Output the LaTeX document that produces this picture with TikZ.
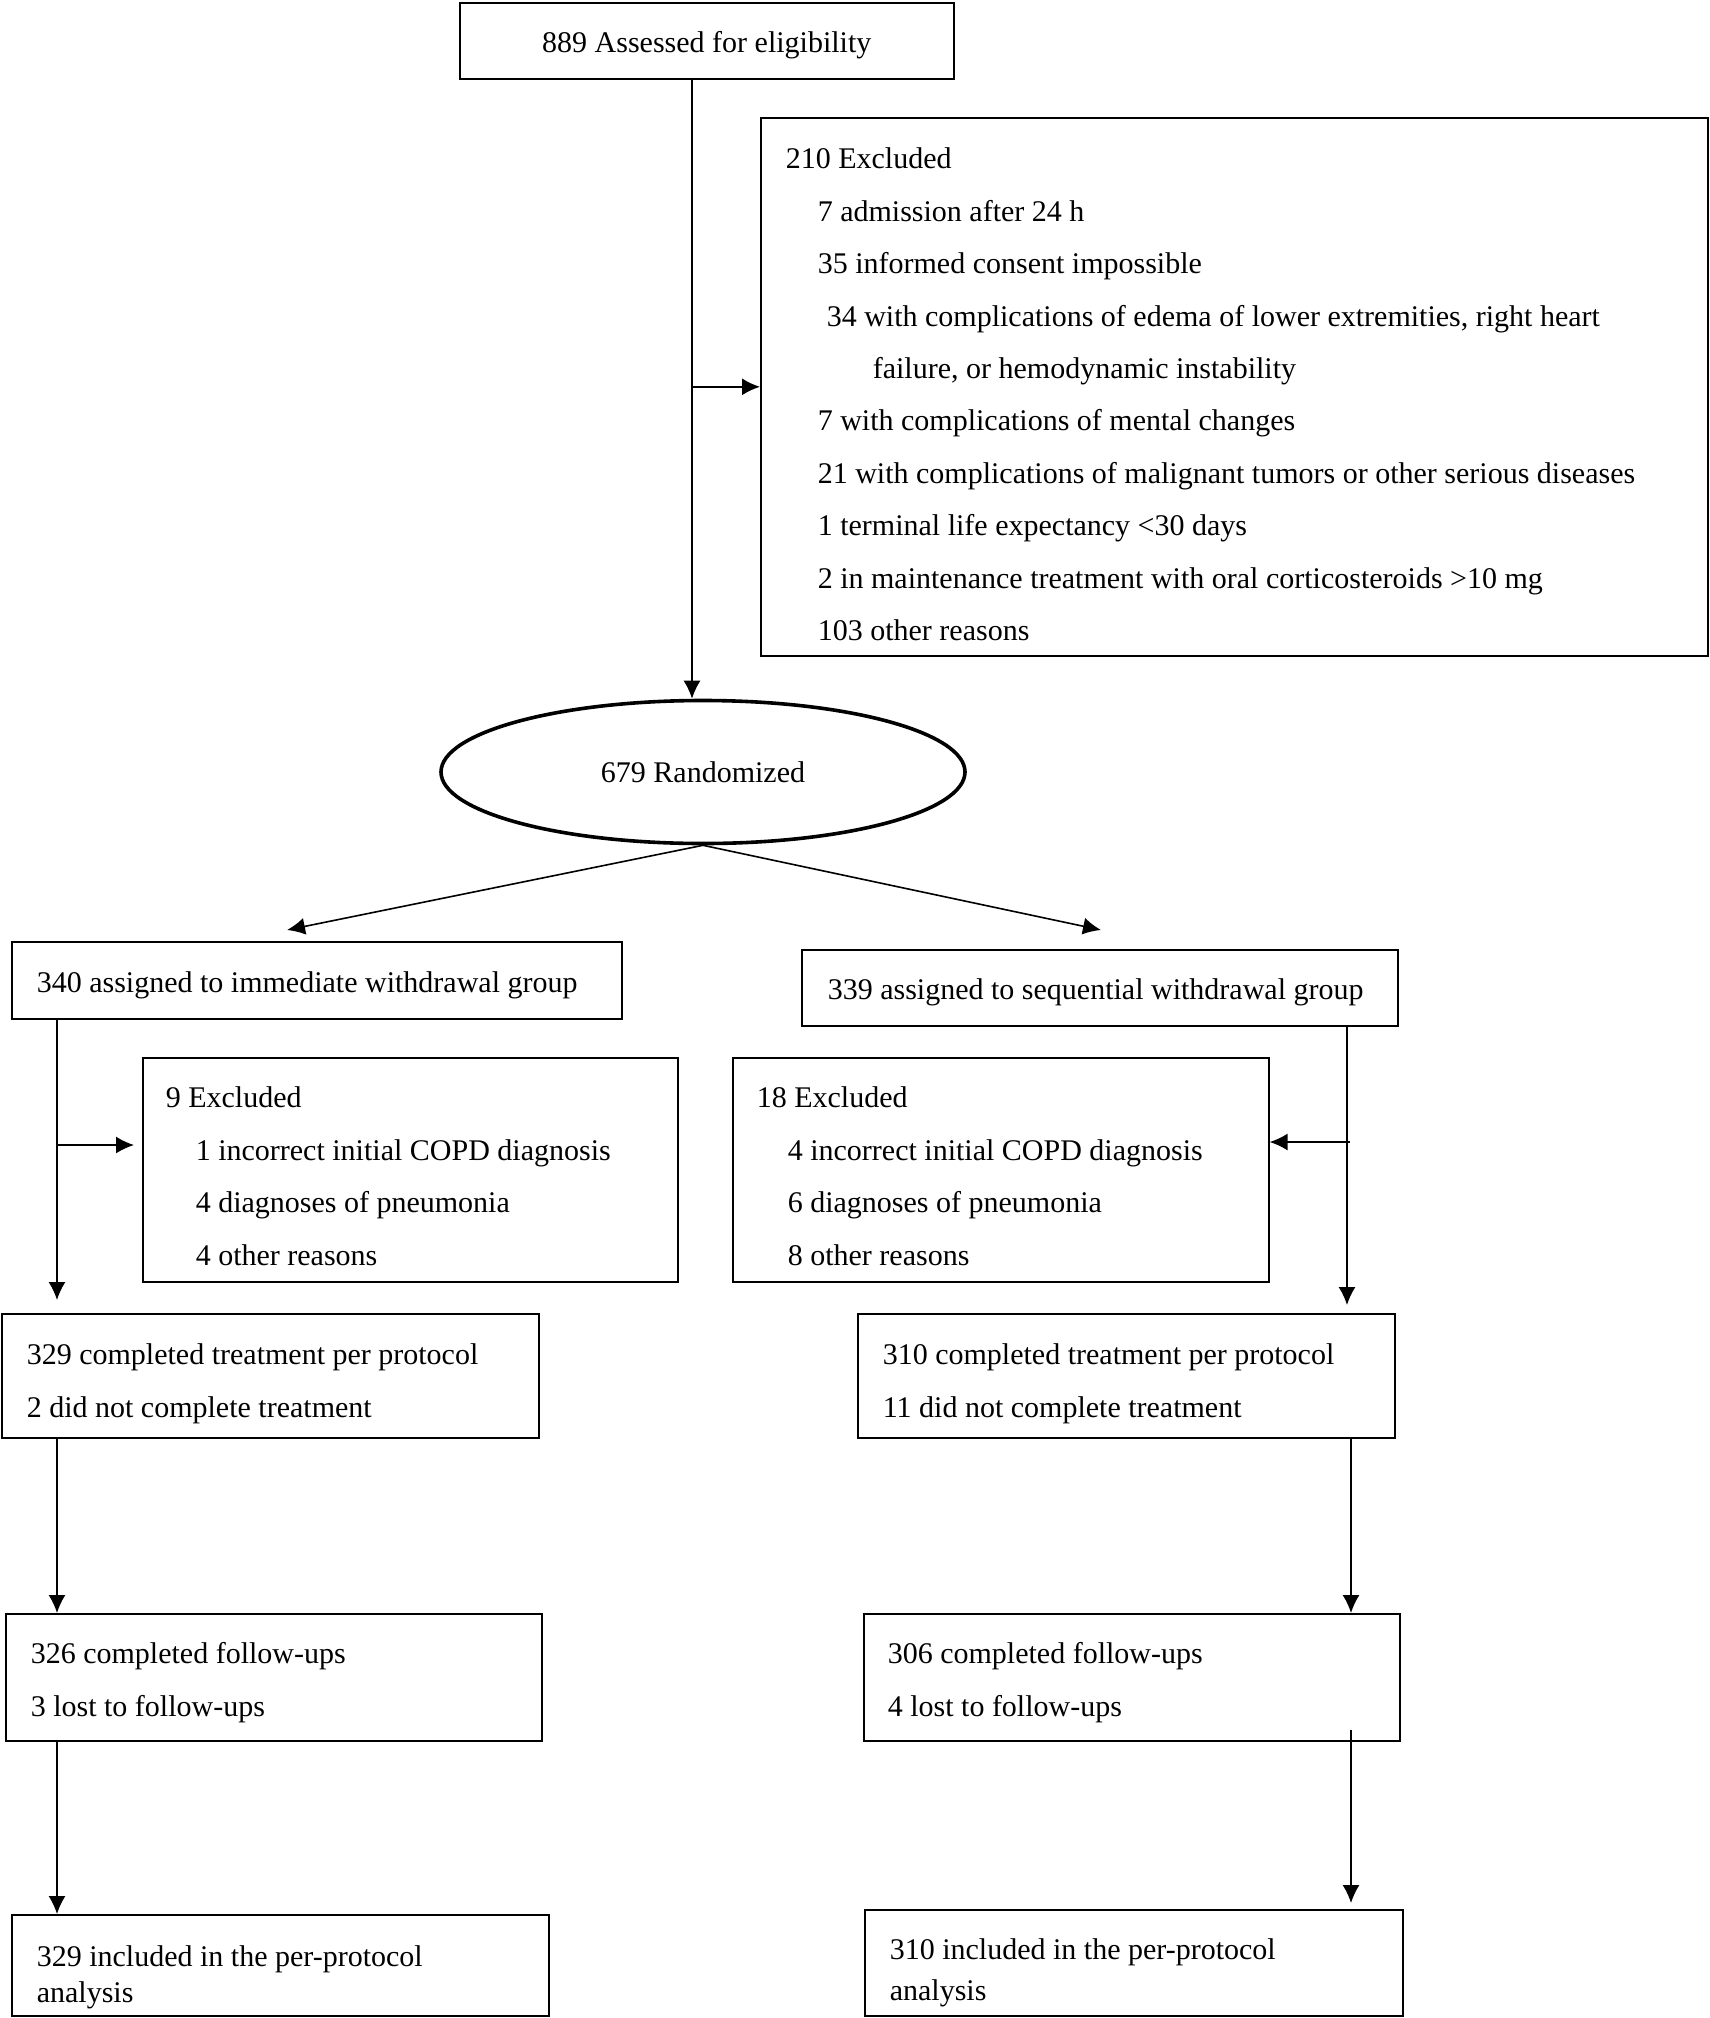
\documentclass[tikz,border=0pt]{standalone}
\usepackage{fontspec}
\setmainfont{Liberation Serif}
\usetikzlibrary{shapes.geometric,arrows.meta,positioning}

\begin{document}
\begin{tikzpicture}[x=0.5pt,y=-0.5pt,
	box/.style={draw=black,line width=0.8pt,anchor=north west,align=left,inner ysep=0pt,
		font=\fontsize{15}{26.2}\selectfont,execute at begin node={\spaceskip=0pt\xspaceskip=0pt}},
	flow/.style={-{Latex[length=9pt,width=8.5pt]},line width=0.8pt}]
	\useasboundingbox (0,0) rectangle (1709,2018);
	%% screening
	\node[box,inner xsep=0pt,minimum width=247pt,text height=25pt,text depth=13pt] (elig) at (459,2) {889 Assessed for eligibility};
	\node[box,text width=448.5pt,inner xsep=12.5pt,text height=25.5pt,text depth=243.5pt] (excl) at (760,117) {210 Excluded\\
		\hspace*{16pt}7 admission after 24 h\\
		\hspace*{16pt}35 informed consent impossible\\
		\hspace*{20.5pt}34 with complications of edema of lower extremities, right heart\\
		\hspace*{43.5pt}failure, or hemodynamic instability\\
		\hspace*{16pt}7 with complications of mental changes\\
		\hspace*{16pt}21 with complications of malignant tumors or other serious diseases\\
		\hspace*{16pt}1 terminal life expectancy <30 days\\
		\hspace*{16pt}2 in maintenance treatment with oral corticosteroids >10 mg\\
		\hspace*{16pt}103 other reasons};
	\node[draw=black,ellipse,line width=1.8pt,minimum width=262pt,minimum height=71.5pt,font=\fontsize{15}{26.2}\selectfont] (rand) at (703,772) {679 Randomized};
	%% allocation
	\node[box,text width=280pt,inner xsep=12.5pt,text height=25.5pt,text depth=13pt] (armA) at (11,941) {340 assigned to immediate withdrawal group};
	\node[box,text width=272pt,inner xsep=13pt,text height=25pt,text depth=13pt] (armB) at (801,949) {339 assigned to sequential withdrawal group};
	\node[box,text width=244.5pt,inner xsep=11.5pt,text height=25pt,text depth=87pt] (exclA) at (142,1057) {9 Excluded\\
		\hspace*{15pt}1 incorrect initial COPD diagnosis\\
		\hspace*{15pt}4 diagnoses of pneumonia\\
		\hspace*{15pt}4 other reasons};
	\node[box,text width=244pt,inner xsep=12pt,text height=25pt,text depth=87pt] (exclB) at (732,1057) {18 Excluded\\
		\hspace*{15.5pt}4 incorrect initial COPD diagnosis\\
		\hspace*{15.5pt}6 diagnoses of pneumonia\\
		\hspace*{15.5pt}8 other reasons};
	%% treatment and follow-up
	\node[box,text width=243.5pt,inner xsep=12.5pt,text height=25.5pt,text depth=36.5pt] (treatA) at (1,1313) {329 completed treatment per protocol\\2 did not complete treatment};
	\node[box,text width=243.5pt,inner xsep=12.5pt,text height=25.5pt,text depth=36.5pt] (treatB) at (857,1313) {310 completed treatment per protocol\\11 did not complete treatment};
	\node[box,text width=243pt,inner xsep=12.5pt,text height=25pt,text depth=38.5pt] (followA) at (5,1613) {326 completed follow-ups\\3 lost to follow-ups};
	\node[box,text width=244pt,inner xsep=12pt,text height=25pt,text depth=38.5pt] (followB) at (863,1613) {306 completed follow-ups\\4 lost to follow-ups};
	%% per-protocol analysis
	\node[box,font=\fontsize{15}{18}\selectfont,text width=243.5pt,inner xsep=12.5pt,text height=26pt,text depth=24.5pt] (ppA) at (11,1914) {329 included in the per-protocol\\analysis};
	\node[box,font=\fontsize{15}{20.5}\selectfont,text width=244pt,inner xsep=12.5pt,text height=25pt,text depth=28pt] (ppB) at (864,1909) {310 included in the per-protocol\\analysis};
	%% connectors
	\coordinate (trunk) at (692,78);
	\coordinate (tipA) at (287,930);
	\coordinate (tipB) at (1101,930);
	\coordinate (legA) at (57,1018);
	\coordinate (forkA) at (57,1145);
	\coordinate (legB) at (1347,1025);
	\coordinate (forkB) at (1350,1142);
	\coordinate (legB2) at (1351,1437);
	\coordinate (legB3) at (1351,1730);
	\draw[flow] (trunk) -- (trunk |- rand.north);
	\draw[flow] (trunk |- excl.west) -- (excl.west);
	\draw[flow] (rand.south) -- (tipA);
	\draw[flow] (rand.south) -- (tipB);
	\draw[flow,shorten >=6.5pt] (legA) -- (legA |- treatA.north);
	\draw[flow,shorten >=4pt] (forkA) -- (forkA -| exclA.west);
	\draw[flow,shorten >=4pt] (legB) -- (legB |- treatB.north);
	\draw[flow] (forkB) -- (forkB -| exclB.east);
	\draw[flow] (legA |- treatA.south) -- (legA |- followA.north);
	\draw[flow] (legB2) -- (legB2 |- followB.north);
	\draw[flow] (legA |- followA.south) -- (legA |- ppA.north);
	\draw[flow,shorten >=3pt] (legB3) -- (legB3 |- ppB.north);
\end{tikzpicture}
\end{document}
